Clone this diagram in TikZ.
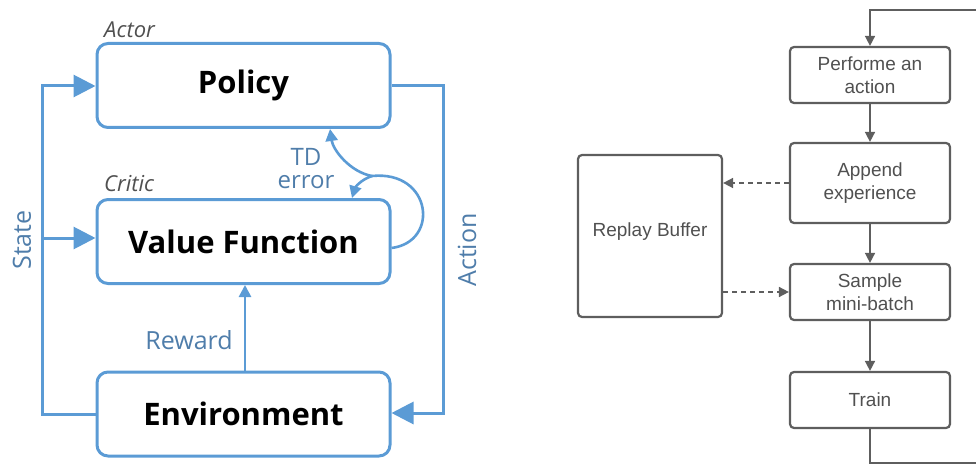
\documentclass[tikz,border=0pt]{standalone}
\usepackage{fontspec}
\setmainfont{Open Sans}
\newfontfamily\arialfont{Liberation Sans}
\usetikzlibrary{arrows.meta,calc}
\definecolor{rlblue}{HTML}{5B9BD5}
\definecolor{rllabel}{HTML}{4F7DAA}
\definecolor{flowgray}{HTML}{5E5E5E}
\definecolor{flowtext}{HTML}{505050}
\tikzset{
  bigbox/.style={draw=rlblue, line width=3pt, rounded corners=11pt, minimum width=293pt, minimum height=84pt, inner sep=0pt, font=\fontsize{31}{33}\selectfont\bfseries, text=black},
  blueline/.style={draw=rlblue, line width=3pt},
  bigtip/.style={-{Triangle[length=22pt,width=22pt]}},
  smalltip/.style={-{Triangle[length=12pt,width=12pt]}},
  bluelabel/.style={text=rllabel, font=\fontsize{25}{27}\selectfont},
  rolelabel/.style={text=flowtext, font=\fontsize{22}{24}\selectfont\itshape},
  flowbox/.style={draw=flowgray, line width=2.2pt, rounded corners=4pt, minimum width=160pt, inner sep=0pt, align=center, text=flowtext, font=\arialfont\fontsize{19}{23}\selectfont},
  flowline/.style={draw=flowgray, line width=1.6pt},
  flowtip/.style={-{Triangle[length=10pt,width=10pt]}},
}
\begin{document}
\begin{tikzpicture}[x=1pt,y=-1pt]
\useasboundingbox (0,0) rectangle (976,465);
\clip (0,0) rectangle (976,465);
% ---------- left: actor-critic ----------
\node[bigbox] (pol) at (243.5,85.5) {Policy};
\node[bigbox] (vf) at (243.5,241.5) {Value Function};
\node[bigbox] (env) at (243.5,414) {Environment};
\node[rolelabel, anchor=base west, inner sep=0pt] (actor) at (104,38) {Actor};
\node[rolelabel, anchor=base west, inner sep=0pt] (critic) at (104,191) {Critic};
% state
\coordinate (sl) at (42,414);
\coordinate (st) at (42,86);
\coordinate (sm) at (42,238);
\draw[blueline, bigtip] (env.west |- sl) -- (sl) -- (st) -- (pol.west |- st);
\draw[blueline, bigtip] (sm) -- (vf.west |- sm);
\node[bluelabel, rotate=90] (state) at (22,240) {State};
% action
\coordinate (at) at (443,86);
\coordinate (ab) at (443,413);
\draw[blueline, bigtip] (pol.east |- at) -- (at) -- (ab) -- (env.east |- ab);
\node[bluelabel, rotate=90] (action) at (467,250) {Action};
% reward
\draw[blueline, line width=2.6pt, smalltip] (env.north -| 245,0) -- (vf.south -| 245,0);
\node[bluelabel] (reward) at (189,340) {Reward};
% TD error
\coordinate (j) at (372,176);
\draw[blueline, line width=2.6pt] (vf.east |- 0,248) .. controls (440,242) and (432,170) .. (j);
\draw[blueline, line width=2.6pt, smalltip] (j) .. controls (350,172) and (333,150) .. (pol.south -| 330,0);
\draw[blueline, line width=2.6pt, smalltip] (j) .. controls (360,180) and (355,188) .. (vf.north -| 352,0);
\node[bluelabel, align=center, font=\fontsize{24}{23}\selectfont] (td) at (306,169) {TD\\error};
% ---------- right: DQN loop ----------
\node[flowbox, minimum height=56pt] (perf) at (870,75) {Performe an\\action};
\node[flowbox, minimum height=80pt] (app) at (870,183) {Append\\experience};
\node[flowbox, minimum height=56pt] (samp) at (870,292) {Sample\\mini-batch};
\node[flowbox, minimum height=56pt] (train) at (870,400) {Train};
\node[flowbox, minimum width=144pt, minimum height=162pt] (rb) at (650,236) {};
\node[text=flowtext, font=\arialfont\fontsize{19}{20}\selectfont] (rbl) at (650,232) {Replay Buffer};
\draw[flowline, flowtip] (perf) -- (app);
\draw[flowline, flowtip] (app) -- (samp);
\draw[flowline, flowtip] (samp) -- (train);
\draw[flowline, dashed, dash pattern=on 5pt off 4pt, flowtip] (app.west) -- (rb.east |- app.west);
\draw[flowline, dashed, dash pattern=on 5pt off 4pt, flowtip] (rb.east |- samp.west) -- (samp.west);
\coordinate (lb) at (870,463);
\coordinate (rbot) at (990,463);
\coordinate (rtop) at (990,10);
\coordinate (lt) at (870,10);
\draw[flowline, flowtip] (train.south) -- (lb) -- (rbot) -- (rtop) -- (lt) -- (perf.north);
\end{tikzpicture}
\end{document}
